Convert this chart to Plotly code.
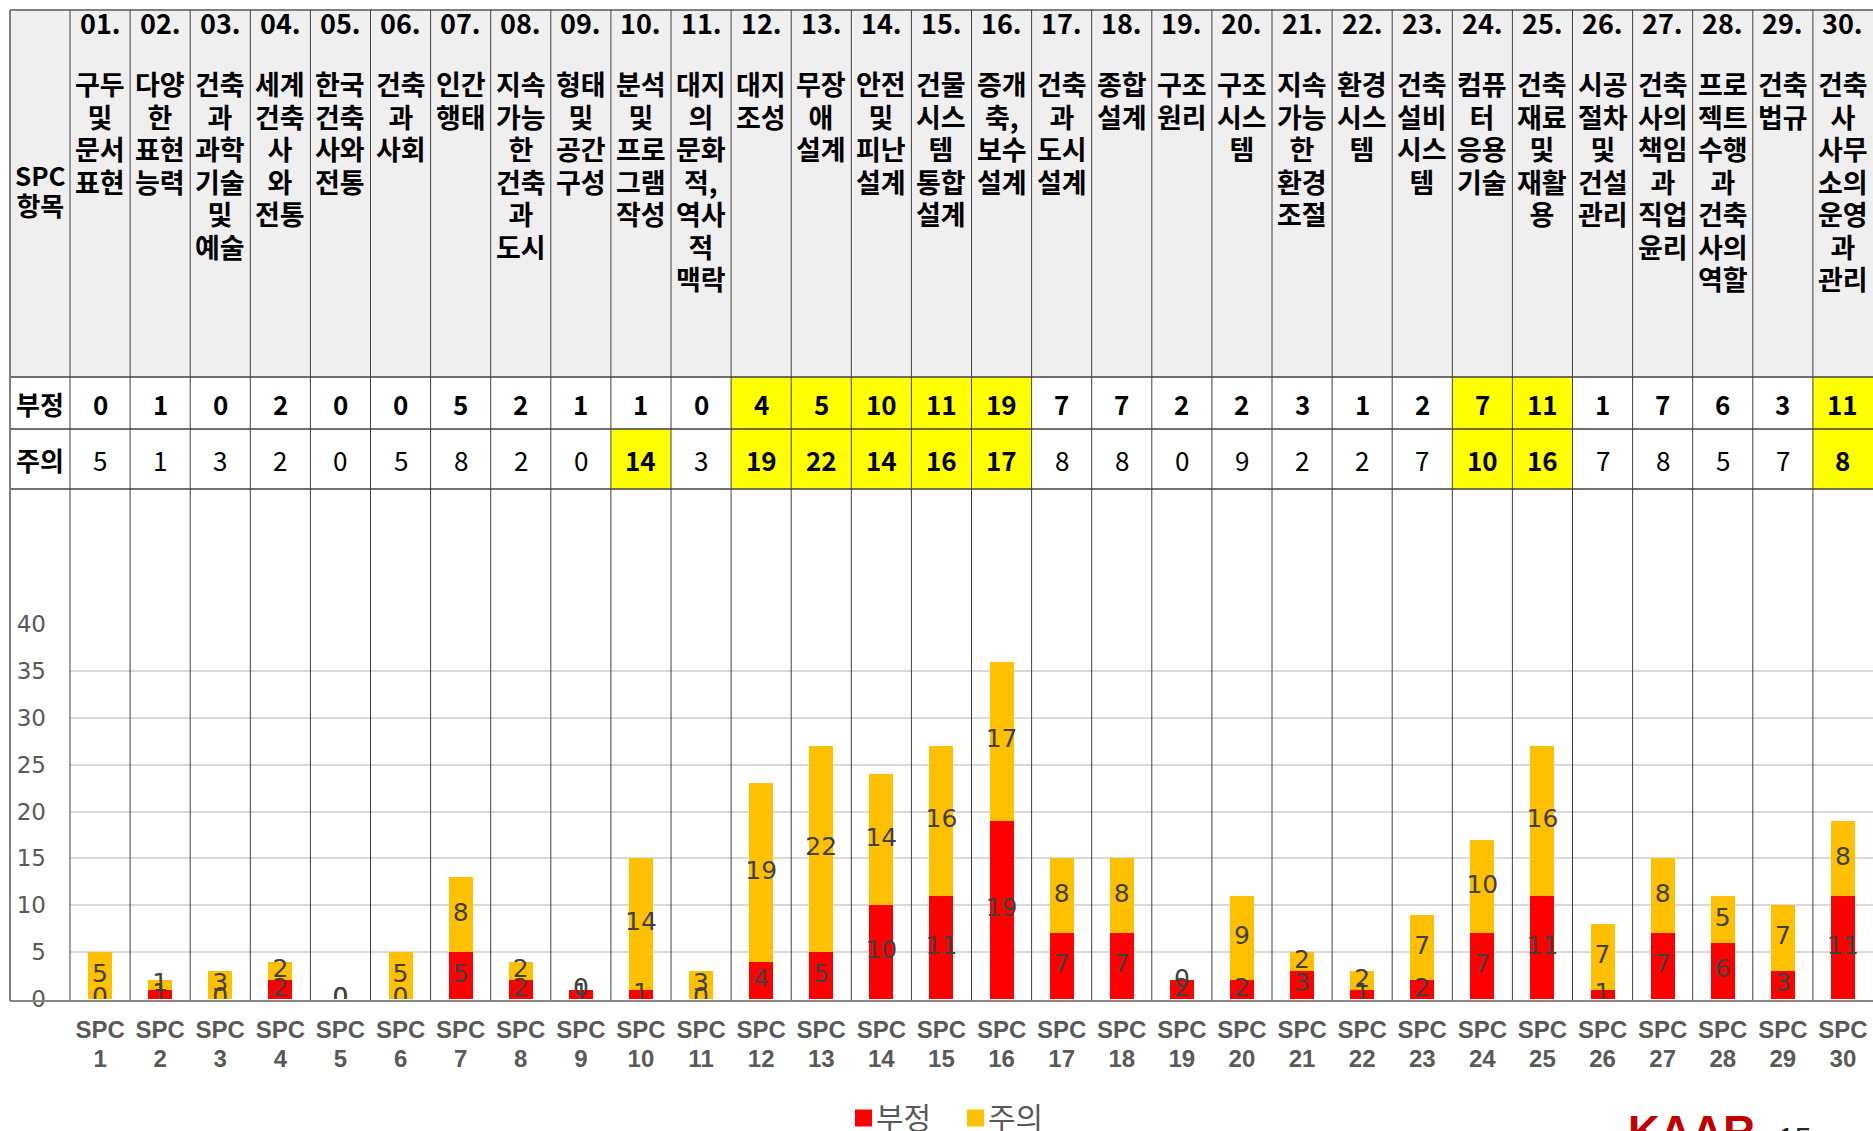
import plotly.graph_objects as go

W, H = 1873, 1131

# ---------------- data ----------------
categories = ["SPC 1", "SPC 2", "SPC 3", "SPC 4", "SPC 5", "SPC 6", "SPC 7", "SPC 8", "SPC 9", "SPC 10",
              "SPC 11", "SPC 12", "SPC 13", "SPC 14", "SPC 15", "SPC 16", "SPC 17", "SPC 18", "SPC 19", "SPC 20",
              "SPC 21", "SPC 22", "SPC 23", "SPC 24", "SPC 25", "SPC 26", "SPC 27", "SPC 28", "SPC 29", "SPC 30"]
tick_lines = [["SPC", "1"], ["SPC", "2"], ["SPC", "3"], ["SPC", "4"], ["SPC", "5"], ["SPC", "6"], ["SPC", "7"],
              ["SPC", "8"], ["SPC", "9"], ["SPC", "10"], ["SPC", "11"], ["SPC", "12"], ["SPC", "13"],
              ["SPC", "14"], ["SPC", "15"], ["SPC", "16"], ["SPC", "17"], ["SPC", "18"], ["SPC", "19"],
              ["SPC", "20"], ["SPC", "21"], ["SPC", "22"], ["SPC", "23"], ["SPC", "24"], ["SPC", "25"],
              ["SPC", "26"], ["SPC", "27"], ["SPC", "28"], ["SPC", "29"], ["SPC", "30"]]
header_numbers = ["01.", "02.", "03.", "04.", "05.", "06.", "07.", "08.", "09.", "10.",
                  "11.", "12.", "13.", "14.", "15.", "16.", "17.", "18.", "19.", "20.",
                  "21.", "22.", "23.", "24.", "25.", "26.", "27.", "28.", "29.", "30."]
header_names = [
    ["구두", "및", "문서", "표현"],
    ["다양", "한", "표현", "능력"],
    ["건축", "과", "과학", "기술", "및", "예술"],
    ["세계", "건축", "사", "와", "전통"],
    ["한국", "건축", "사와", "전통"],
    ["건축", "과", "사회"],
    ["인간", "행태"],
    ["지속", "가능", "한", "건축", "과", "도시"],
    ["형태", "및", "공간", "구성"],
    ["분석", "및", "프로", "그램", "작성"],
    ["대지", "의", "문화", "적,", "역사", "적", "맥락"],
    ["대지", "조성"],
    ["무장", "애", "설계"],
    ["안전", "및", "피난", "설계"],
    ["건물", "시스", "템", "통합", "설계"],
    ["증개", "축,", "보수", "설계"],
    ["건축", "과", "도시", "설계"],
    ["종합", "설계"],
    ["구조", "원리"],
    ["구조", "시스", "템"],
    ["지속", "가능", "한", "환경", "조절"],
    ["환경", "시스", "템"],
    ["건축", "설비", "시스", "템"],
    ["컴퓨", "터", "응용", "기술"],
    ["건축", "재료", "및", "재활", "용"],
    ["시공", "절차", "및", "건설", "관리"],
    ["건축", "사의", "책임", "과", "직업", "윤리"],
    ["프로", "젝트", "수행", "과", "건축", "사의", "역할"],
    ["건축", "법규"],
    ["건축", "사", "사무", "소의", "운영", "과", "관리"],
]
negative = [0, 1, 0, 2, 0, 0, 5, 2, 1, 1, 0, 4, 5, 10, 11, 19, 7, 7, 2, 2, 3, 1, 2, 7, 11, 1, 7, 6, 3, 11]
caution = [5, 1, 3, 2, 0, 5, 8, 2, 0, 14, 3, 19, 22, 14, 16, 17, 8, 8, 0, 9, 2, 2, 7, 10, 16, 7, 8, 5, 7, 8]
highlight_negative = [0, 0, 0, 0, 0, 0, 0, 0, 0, 0, 0, 1, 1, 1, 1, 1, 0, 0, 0, 0, 0, 0, 0, 1, 1, 0, 0, 0, 0, 1]
highlight_caution = [0, 0, 0, 0, 0, 0, 0, 0, 0, 1, 0, 1, 1, 1, 1, 1, 0, 0, 0, 0, 0, 0, 0, 1, 1, 0, 0, 0, 0, 1]
series_names = ["부정", "주의"]
series_colors = ["#FF0000", "#FFC000"]

# ---------------- styling / layout constants ----------------
KR = "Noto Sans CJK KR"
NUMF = "DejaVu Sans"
YELLOW = "#FFFF00"
HEAD_BG = "#EFEFEF"
LINE_C = "#404040"

LEFT = 10          # table left edge (px)
COL0 = 70          # first data column left edge (px)
COL_W = (W - COL0) / 30
TOP = 10
HEAD_B = 377
NEG_B = 429
CAU_B = 489
AXIS_Y0 = 999      # y=0
AXIS_Y40 = 624     # y=40
AXIS_LINE = 1001
LEGEND_Y = 1118
LEGEND_ITEMS_X = [855, 967]   # left edge of each legend swatch
SWATCH = 17


def px(x):
    return x / W


def py(y):
    return 1 - y / H


fig = go.Figure()

for name, vals, col in zip(series_names, [negative, caution], series_colors):
    fig.add_trace(go.Bar(x=categories, y=vals, name=name, marker=dict(color=col, line=dict(width=0)),
                         width=0.4, hoverinfo="x+y+name", showlegend=False))

# data labels (Excel style: centred in each segment, zero-height segments labelled at their base)
neg_mid = [v / 2 for v in negative]
cau_mid = [n + c / 2 for n, c in zip(negative, caution)]
label_font = dict(family=NUMF, size=25, color="#404040")
fig.add_trace(go.Scatter(x=categories, y=neg_mid, mode="text", text=[str(v) for v in negative],
                         textposition="middle center", textfont=label_font, showlegend=False, hoverinfo="skip"))
fig.add_trace(go.Scatter(x=categories, y=cau_mid, mode="text", text=[str(v) for v in caution],
                         textposition="middle center", textfont=label_font, showlegend=False, hoverinfo="skip"))

shapes = []
annotations = []

# header background
shapes.append(dict(type="rect", xref="paper", yref="paper", x0=px(LEFT), x1=1, y0=py(HEAD_B), y1=py(TOP),
                   fillcolor=HEAD_BG, line=dict(width=0), layer="below"))
# yellow highlights
for i, cat in enumerate(categories):
    if highlight_negative[i]:
        shapes.append(dict(type="rect", xref="x", yref="paper", x0=i - 0.5, x1=i + 0.5,
                           y0=py(NEG_B), y1=py(HEAD_B), fillcolor=YELLOW, line=dict(width=0), layer="below"))
    if highlight_caution[i]:
        shapes.append(dict(type="rect", xref="x", yref="paper", x0=i - 0.5, x1=i + 0.5,
                           y0=py(CAU_B), y1=py(NEG_B), fillcolor=YELLOW, line=dict(width=0), layer="below"))

# horizontal table lines
shapes.append(dict(type="line", xref="paper", yref="paper", x0=px(LEFT), x1=1, y0=py(TOP), y1=py(TOP),
                   line=dict(color="#7F7F7F", width=2)))
for yb in (HEAD_B, NEG_B, CAU_B):
    shapes.append(dict(type="line", xref="paper", yref="paper", x0=px(LEFT), x1=1, y0=py(yb), y1=py(yb),
                       line=dict(color=LINE_C, width=1.5)))
# left border / value-axis line
shapes.append(dict(type="line", xref="paper", yref="paper", x0=px(LEFT), x1=px(LEFT), y0=py(AXIS_LINE), y1=py(TOP),
                   line=dict(color="#7F7F7F", width=2)))
# column boundaries (table lines continued through the chart)
for k in range(30):
    xk = px(COL0 + k * COL_W)
    shapes.append(dict(type="line", xref="paper", yref="paper", x0=xk, x1=xk, y0=py(AXIS_LINE), y1=py(TOP),
                       line=dict(color=LINE_C, width=1)))
# category axis line
shapes.append(dict(type="line", xref="paper", yref="paper", x0=px(LEFT), x1=1, y0=py(AXIS_LINE), y1=py(AXIS_LINE),
                   line=dict(color="#868686", width=2)))

# header texts: number on top, wrapped name below
for i, cat in enumerate(categories):
    annotations.append(dict(xref="x", yref="paper", x=cat, y=py(1), xanchor="center", yanchor="top",
                            text="<span style='font-size:27px'><b>%s</b></span>" % header_numbers[i],
                            showarrow=False, align="center",
                            font=dict(family=KR, size=25, color="#000000")))
    txt = "<br>".join("<span style='font-size:27px'><b>%s</b></span>" % s for s in header_names[i])
    annotations.append(dict(xref="x", yref="paper", x=cat, y=py(62), xanchor="center", yanchor="top",
                            text=txt, showarrow=False, align="center",
                            font=dict(family=KR, size=25, color="#000000")))
annotations.append(dict(xref="paper", yref="paper", x=px((LEFT + COL0) / 2), y=py(190), xanchor="center",
                        yanchor="middle",
                        text="<span style='font-size:26px'><b>SPC</b></span><br>"
                             "<span style='font-size:26px'><b>항목</b></span>",
                        showarrow=False, align="center", font=dict(family=KR, size=23, color="#000000")))

# table rows
row_font = dict(family=KR, size=26, color="#000000")
annotations.append(dict(xref="paper", yref="paper", x=px((LEFT + COL0) / 2), y=py((HEAD_B + NEG_B) / 2),
                        xanchor="center", yanchor="middle",
                        text="<b>%s</b>" % series_names[0], showarrow=False, font=row_font))
annotations.append(dict(xref="paper", yref="paper", x=px((LEFT + COL0) / 2), y=py((NEG_B + CAU_B) / 2),
                        xanchor="center", yanchor="middle",
                        text="<b>%s</b>" % series_names[1], showarrow=False, font=row_font))
for i, cat in enumerate(categories):
    t1 = "<b>%d</b>" % negative[i]
    annotations.append(dict(xref="x", yref="paper", x=cat, y=py((HEAD_B + NEG_B) / 2),
                            xanchor="center", yanchor="middle", text=t1, showarrow=False, font=row_font))
    t2 = "<b>%d</b>" % caution[i] if highlight_caution[i] else "%d" % caution[i]
    annotations.append(dict(xref="x", yref="paper", x=cat, y=py((NEG_B + CAU_B) / 2),
                            xanchor="center", yanchor="middle", text=t2, showarrow=False, font=row_font))

# legend (swatch + label), placed like the original near the bottom edge
for name, col, lx in zip(series_names, series_colors, LEGEND_ITEMS_X):
    shapes.append(dict(type="rect", xref="paper", yref="paper", x0=px(lx), x1=px(lx + SWATCH),
                       y0=py(LEGEND_Y + SWATCH / 2), y1=py(LEGEND_Y - SWATCH / 2),
                       fillcolor=col, line=dict(width=0)))
    annotations.append(dict(xref="paper", yref="paper", x=px(lx + SWATCH + 2), y=py(LEGEND_Y - 2),
                            xanchor="left", yanchor="middle", text=name, showarrow=False,
                            font=dict(family=KR, size=30, color="#595959")))

# logo / page number (cut off at the bottom edge)
annotations.append(dict(xref="paper", yref="paper", x=px(1626), y=py(1105), xanchor="left", yanchor="top",
                        text="<b>KAAR</b>", showarrow=False,
                        font=dict(family="Liberation Sans", size=44, color="#C00000")))
annotations.append(dict(xref="paper", yref="paper", x=px(1776), y=py(1119), xanchor="left", yanchor="top",
                        text="15", showarrow=False,
                        font=dict(family="Liberation Sans", size=30, color="#262626")))

tick_text = ["<br>".join("<span style='font-size:24px'><b>%s</b></span>" % s for s in t) for t in tick_lines]

fig.update_layout(
    width=W, height=H,
    margin=dict(l=0, r=0, t=0, b=0),
    paper_bgcolor="white", plot_bgcolor="rgba(0,0,0,0)",
    barmode="stack",
    showlegend=False,
    xaxis=dict(domain=[px(COL0), 1], type="category", categoryorder="array", categoryarray=categories,
               range=[-0.5, 29.5], tickvals=categories, ticktext=tick_text,
               tickfont=dict(family="Liberation Sans", size=22, color="#595959"),
               showgrid=False, zeroline=False, showline=False, ticks="", automargin=False,
               ticklabelstandoff=16),
    yaxis=dict(domain=[py(AXIS_Y0), py(AXIS_Y40)], range=[0, 40], dtick=5, tick0=0,
               showgrid=True, gridcolor="#D9D9D9", gridwidth=2, zeroline=False, showline=False,
               tickfont=dict(family=NUMF, size=23, color="#595959"), ticks="", automargin=False,
               ticklabelstandoff=23),
    shapes=shapes,
    annotations=annotations,
    font=dict(family=KR),
)

fig.write_html("out.html", include_plotlyjs=True, config={"displayModeBar": False},
               post_script="document.body.style.margin='0';document.body.style.overflow='hidden';")
